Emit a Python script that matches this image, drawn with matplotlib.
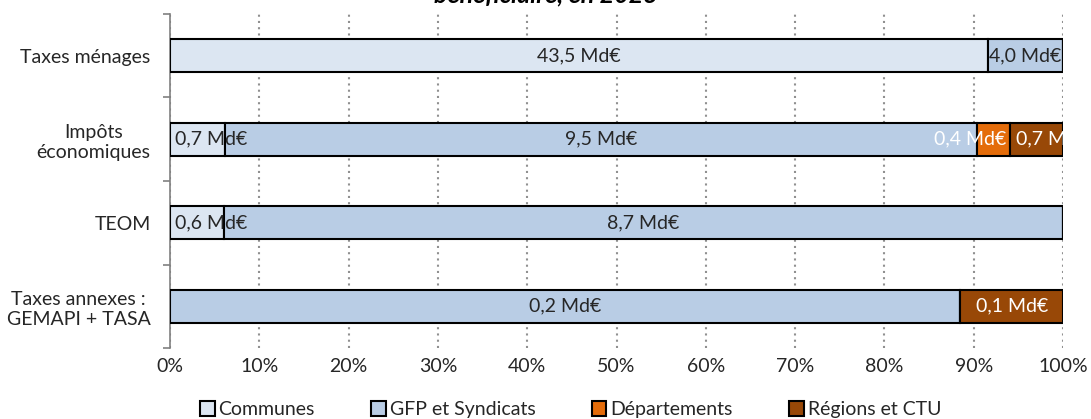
import numpy as np
import matplotlib
matplotlib.use("Agg")
import matplotlib.pyplot as plt

plt.rcParams['font.family'] = ['Lato', 'DejaVu Sans']

categories = ["Taxes ménages", "Impôts\néconomiques", "TEOM", "Taxes annexes :\nGEMAPI + TASA"]
series = ["Communes", "GFP et Syndicats", "Départements", "Régions et CTU"]
colors = ["#DCE6F2", "#B9CDE5", "#E46C0A", "#984807"]
text_colors = ["#262626", "#262626", "white", "white"]

# shares in %
communes = [91.6, 6.2, 6.0, 0.0]
gfp = [8.4, 84.2, 94.0, 88.5]
departements = [0.0, 3.7, 0.0, 0.0]
regions = [0.0, 5.9, 0.0, 11.5]

# labels shown in each segment (Md€)
lab_communes = ["43,5 Md€", "0,7 Md€", "0,6 Md€", ""]
lab_gfp = ["4,0 Md€", "9,5 Md€", "8,7 Md€", "0,2 Md€"]
lab_departements = ["", "0,4 Md€", "", ""]
lab_regions = ["", "0,7 Md€", "", "0,1 Md€"]

values = [communes, gfp, departements, regions]
labels = [lab_communes, lab_gfp, lab_departements, lab_regions]

fig = plt.figure(figsize=(10.91, 4.19), dpi=100)
ax = fig.add_axes([170/1091, 1-348/419, 893/1091, 334/419])

y = np.arange(len(categories))
left = np.zeros(len(categories))
for s in range(len(series)):
    v = np.array(values[s])
    ax.barh(y, v, left=left, height=0.4, color=colors[s], edgecolor="black",
            linewidth=1.5, label=series[s], zorder=3)
    for i in range(len(categories)):
        if v[i] <= 0 or not labels[s][i]:
            continue
        # narrow segments: label overflows like in Excel
        if v[i] >= 8:
            x, ha = left[i] + v[i]/2, "center"
        elif s == 2:
            x, ha = left[i] + v[i] - 0.4, "right"
        else:
            x, ha = left[i] + 0.6, "left"
        ax.text(x, y[i], labels[s][i], ha=ha, va="center",
                fontsize=14, color=text_colors[s], zorder=4, clip_on=True)
    left += v

ax.set_xlim(0, 100)
ax.set_ylim(len(categories)-0.5, -0.5)
ax.set_xticks(np.arange(0, 101, 10))
ax.set_xticklabels([f"{t}%" for t in range(0, 101, 10)], fontsize=14, color="#262626")
ax.tick_params(axis="x", length=0, pad=7)
ax.set_yticks(y)
ax.set_yticklabels(categories, fontsize=14, color="#262626")
ax.set_yticks(np.arange(-0.5, len(categories)), minor=True)
ax.tick_params(axis="y", which="major", length=0, pad=14)
ax.tick_params(axis="y", which="minor", length=5, color="#808080", width=1.2)
for t in ax.get_yticklabels():
    t.set_horizontalalignment("right")
    t.set_multialignment("center")

ax.grid(axis="x", linestyle=(0, (1, 2)), color="#909090", linewidth=1.5, zorder=0)
for sp in ["top", "right", "bottom"]:
    ax.spines[sp].set_visible(False)
ax.spines["left"].set_color("#808080")
ax.spines["left"].set_linewidth(1.2)

# title is cut off at the top in the original
fig.text(0.5, 0.995, "bénéficiaire, en 2023", ha="center", va="baseline",
         fontsize=18, fontweight="bold", fontstyle="italic")

leg = fig.legend(loc="lower center", bbox_to_anchor=(0.523, -0.04), ncol=4,
                 frameon=False, fontsize=14, handlelength=0.75, handleheight=0.75,
                 handletextpad=0.2, columnspacing=2.9, labelcolor="#262626")

fig.savefig("out.png", dpi=100)
